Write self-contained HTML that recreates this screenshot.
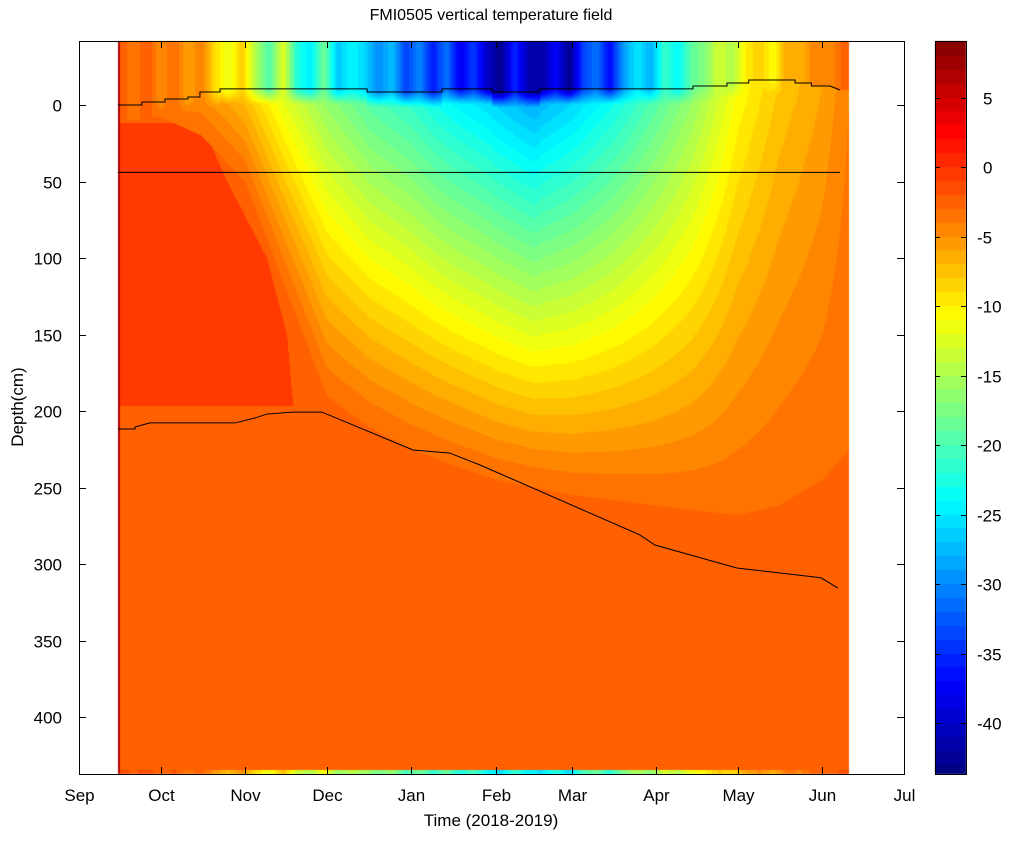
<!DOCTYPE html>
<html><head><meta charset="utf-8">
<style>
body{margin:0;background:#fff;width:1022px;height:841px;position:relative;overflow:hidden;font-family:"Liberation Sans",sans-serif;}
.lbl{position:absolute;font-size:16px;color:#000;white-space:nowrap;}
</style></head>
<body>
<div class="lbl" style="left:0;width:982px;top:7px;text-align:center;">FMI0505 vertical temperature field</div>
<canvas id="plot" width="1022" height="841" style="position:absolute;left:0;top:0"></canvas>
<svg id="ax" width="1022" height="841" style="position:absolute;left:0;top:0"></svg>
<div class="lbl" style="left:0;width:982px;top:811px;text-align:center;font-size:17px;">Time (2018-2019)</div>
<div class="lbl" style="left:-22px;top:397px;transform:rotate(-90deg);width:80px;text-align:center;font-size:17px;">Depth(cm)</div>
<script>
// ---- data (days since 1 Sep 2018, depth in cm, temperature in degC) ----
const monthLabels=["Sep","Oct","Nov","Dec","Jan","Feb","Mar","Apr","May","Jun","Jul"];
const monthDays=[0,30,61,91,122,153,181,212,242,273,303];
const depthTicks=[0,50,100,150,200,250,300,350,400];
const cbarTicks=[5,0,-5,-10,-15,-20,-25,-30,-35,-40];
const profDays=[14,30,45,61,76,91,106,122,137,153,167,181,196,212,227,242,257,273,283];
const surfTemp=[-2.5,-3,-5,-8,-13,-17,-20,-22,-25,-27,-29,-27,-24,-20,-16,-11,-8,-6,-4];
const coldDepth=[0,8,20,50,120,190,210,225,235,245,250,255,258,262,265,268,262,245,225];
const airDays=[15,20,25,30,35,40,45,50,55,60,65,70,75,80,85,90,95,100,105,110,115,120,125,130,135,140,145,150,155,160,165,170,175,180,185,190,195,200,205,210,215,220,225,230,235,240,245,250,255,260,265,270,275,280,285];
const airTemp=[-2,-4,-2,-5,-3,-6,-4,-9,-12,-8,-15,-20,-12,-22,-25,-18,-27,-24,-26,-30,-27,-34,-30,-36,-31,-38,-34,-40,-43,-35,-41,-42,-37,-43,-34,-31,-37,-29,-25,-28,-21,-24,-19,-17,-13,-15,-10,-8,-11,-6,-7,-4,-5,-3,-2];
const surfLineDays=[14.3,23.1,23.1,31.6,31.6,40,40,44.4,44.4,51.8,51.8,105.8,105.8,133.3,133.3,151.7,151.7,169.3,169.3,225.5,225.5,238,238,246,246,263,263,269,269,275.8,279.5];
const surfLineDepth=[0,0,-2,-2,-3.9,-3.9,-5.2,-5.2,-8.5,-8.5,-10.5,-10.5,-8.5,-8.5,-10.5,-10.5,-8.5,-8.5,-10.5,-10.5,-12.4,-12.4,-14.4,-14.4,-16.3,-16.3,-14.4,-14.4,-12.4,-12.4,-9.8];
const bottomDays=[14.3,20.6,20.6,26,57.3,64.6,69,78.6,89.2,122.7,136.2,147.3,206,211.5,241.6,272.5,278.7];
const bottomDepth=[211.8,211.8,210.5,207.8,207.8,204.6,202,200.7,200.7,225.5,227.5,235.3,281,287.6,302.6,309,315.7];
const warmDepth=[10,50,100,150,195];
const warmEndDay=[44.4,54.4,69,76.4,78.6];
const snowIceDepth=44;
const startDay=14.3, endDay=282.8, baseTemp=-3, warmTemp=-1;

// ---- axes ----
const X0=79,X1=904,Y0=41,Y1=774;
const xs=d=>X0+d*(X1-X0)/303;
const ys=z=>105+z*1.53;
const dayAt=x=>(x-X0)*303/(X1-X0);
const depthAt=y=>(y-105)/1.53;
const CB0=935,CB1=966,cbY=t=>167-t*13.9;
const TMIN=-43.7,TMAX=9.03;
function interp(a,b,x){if(x<=a[0])return b[0];for(let i=1;i<a.length;i++){if(x<=a[i]){const f=(x-a[i-1])/((a[i]-a[i-1])||1);return b[i-1]+f*(b[i]-b[i-1]);}}return b[b.length-1];}
function jet(t){let q=Math.floor(t)+0.5;let v=(q-TMIN)/(TMAX-TMIN);v=Math.max(0,Math.min(1,v));const c=x=>Math.round(255*Math.max(0,Math.min(1,x)));return [c(1.5-Math.abs(4*v-3)),c(1.5-Math.abs(4*v-2)),c(1.5-Math.abs(4*v-1))];}
function tempAt(d,z){
  const zs=interp(surfLineDays,surfLineDepth,d);
  const Ta=interp(airDays,airTemp,d);
  if(z<zs) return Ta;
  const Ts=interp(profDays,surfTemp,d), D=interp(profDays,coldDepth,d);
  let B=baseTemp;
  if(z>=12&&z<=197&&d<interp(warmDepth,warmEndDay,z)) B=warmTemp;
  let T=B;
  if(D>zs){const f=1-(z-zs)/(D-zs);if(f>0)T=Math.min(B,baseTemp+(Ts-baseTemp)*Math.pow(f,1.1));}
  const zz=z-zs;
  if(zz<10&&Ta<T) T=Ta+(T-Ta)*zz/10;
  return T;
}
const cv=document.getElementById('plot'),ctx=cv.getContext('2d');
const img=ctx.createImageData(1022,841);
for(let x=Math.round(xs(startDay));x<Math.round(xs(endDay));x++){
  const d=dayAt(x+0.5);
  for(let y=Y0;y<Y1;y++){
    let T=(y>=770)?interp(airDays,airTemp,d)*0.6:tempAt(d,depthAt(y+0.5));
    const c=jet(T),i=(y*1022+x)*4;
    img.data[i]=c[0];img.data[i+1]=c[1];img.data[i+2]=c[2];img.data[i+3]=255;
  }
}
for(let y=Y0;y<Y1;y++){const t=(167-(y+0.5))/13.9;const c=jet(t);for(let x=CB0;x<CB1;x++){const i=(y*1022+x)*4;img.data[i]=c[0];img.data[i+1]=c[1];img.data[i+2]=c[2];img.data[i+3]=255;}}
ctx.putImageData(img,0,0);
ctx.fillStyle='#b00000';ctx.fillRect(Math.round(xs(startDay)),Y0,2,Y1-Y0);

const svg=document.getElementById('ax');const NS='http://www.w3.org/2000/svg';
function mk(tag,attrs,name){const e=document.createElementNS(NS,tag);for(const k in attrs)e.setAttribute(k,attrs[k]);


svg.appendChild(e);return e;}
mk('polyline',{points:surfLineDays.map((d,i)=>xs(d)+','+ys(surfLineDepth[i])).join(' '),fill:'none',stroke:'#000','stroke-width':1},'snow-surface-line');
mk('line',{x1:xs(startDay),x2:xs(279.5),y1:ys(snowIceDepth),y2:ys(snowIceDepth),stroke:'#000','stroke-width':1},'snow-ice-interface-line');
mk('polyline',{points:bottomDays.map((d,i)=>xs(d)+','+ys(bottomDepth[i])).join(' '),fill:'none',stroke:'#000','stroke-width':1},'ice-bottom-line');
mk('rect',{x:X0+0.5,y:Y0+0.5,width:X1-X0,height:Y1-Y0,fill:'none',stroke:'#000','stroke-width':1},'plot-frame');
mk('rect',{x:CB0+0.5,y:Y0+0.5,width:CB1-CB0,height:Y1-Y0,fill:'none',stroke:'#000','stroke-width':1},'colorbar-frame');
monthDays.forEach((d,i)=>{const x=Math.round(xs(d))+0.5;
  mk('line',{x1:x,x2:x,y1:Y1,y2:Y1-7,stroke:'#000'},'x-tick');
  mk('line',{x1:x,x2:x,y1:Y0,y2:Y0+7,stroke:'#000'},'x-tick-top');
  const t=mk('text',{x:x,y:801,'text-anchor':'middle','font-size':17,'font-family':'Liberation Sans, sans-serif'},'x-tick-label');t.textContent=monthLabels[i];});
depthTicks.forEach(z=>{const y=Math.round(ys(z))+0.5;
  mk('line',{x1:X0,x2:X0+7,y1:y,y2:y,stroke:'#000'},'y-tick');
  mk('line',{x1:X1,x2:X1-7,y1:y,y2:y,stroke:'#000'},'y-tick-right');
  const t=mk('text',{x:62,y:y+6,'text-anchor':'end','font-size':17,'font-family':'Liberation Sans, sans-serif'},'y-tick-label');t.textContent=z;});
cbarTicks.forEach(v=>{const y=Math.round(cbY(v))+0.5;
  mk('line',{x1:CB0,x2:CB0+5,y1:y,y2:y,stroke:'#000'},'colorbar-tick');
  mk('line',{x1:CB1,x2:CB1-5,y1:y,y2:y,stroke:'#000'},'colorbar-tick-right');
  const t=mk('text',{x:v>=0?983:977,y:y+6,'font-size':17,'font-family':'Liberation Sans, sans-serif'},'colorbar-tick-label');t.textContent=v;});
</script>
</body></html>
